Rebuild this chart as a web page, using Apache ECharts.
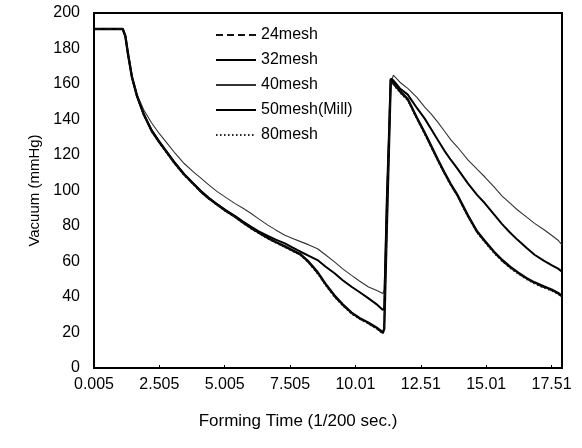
<!DOCTYPE html>
<html>
<head>
<meta charset="utf-8">
<script src="https://cdn.jsdelivr.net/npm/echarts@6/dist/echarts.min.js"></script>
<style>
html,body{margin:0;padding:0;background:#fff;}
#chart{width:582px;height:448px;}
</style>
</head>
<body>
<div id="chart"></div>
<script>
// Forming time (1/200 sec.)
var time = [0.005, 1.1, 1.2, 1.3, 1.45, 1.65, 1.9, 2.2, 2.5, 2.8, 3.1, 3.45, 3.8, 4.1, 4.4, 4.7, 5.05, 5.4, 5.7, 6.0, 6.3, 6.65, 6.95, 7.3, 7.6, 7.9, 8.2, 8.55, 8.85, 9.2, 9.5, 9.85, 10.15, 10.5, 10.8, 11.05, 11.1, 11.2, 11.35, 11.45, 11.7, 12.0, 12.35, 12.65, 12.9, 13.15, 13.4, 13.65, 13.9, 14.3, 14.65, 14.95, 15.3, 15.6, 15.9, 16.2, 16.55, 16.85, 17.2, 17.5, 17.75, 17.9];

var mesh24 = [191, 191, 187, 177, 164, 153, 143, 133.5, 127, 121, 115, 108.7, 103.5, 99, 95.3, 92, 88.3, 85, 81.8, 78.7, 76, 73, 70.7, 68.2, 66, 63.7, 59.5, 53.4, 47, 40.2, 35.5, 30.7, 27.8, 25, 22.3, 19.5, 23, 78, 162, 160, 155.5, 151, 140.5, 132, 124.5, 117, 109.7, 103, 97, 85.5, 76.5, 71, 65, 60.5, 56.8, 53.5, 50.2, 47.7, 45.5, 43.8, 41.8, 40.2];
var mesh32 = [191, 191, 187, 177, 164, 153, 143.2, 134, 127.5, 121.5, 115.5, 109.2, 104, 99.6, 95.7, 92.3, 88.8, 85.6, 82.5, 79.6, 77, 74.4, 72.3, 70.2, 67.8, 65.5, 63.3, 60.8, 57.2, 53.4, 49.6, 45.8, 42.8, 39.2, 36, 32.7, 34, 95, 163, 162, 157.5, 154, 146.5, 140.5, 134.5, 128.5, 122.5, 117.2, 112.3, 104, 97.5, 92.8, 86.5, 81.2, 76.5, 72.2, 67.6, 63.8, 60.5, 58, 56, 54.3];
var mesh40 = [191, 191, 187, 177, 164.5, 154, 145.5, 138.2, 132, 126.6, 121, 115.2, 110.5, 106.8, 103, 99.5, 96, 92.6, 90, 87.2, 84, 80.5, 77.8, 74.8, 73, 71.2, 69.5, 67.2, 63.8, 59.8, 56, 52.2, 49, 45.6, 43.8, 42, 44, 100, 160, 165, 161, 157.5, 152.5, 147, 143, 138.5, 133.5, 128.5, 124.5, 117.2, 112, 107.6, 102, 97, 93, 89, 85, 81.5, 78, 74.8, 72, 69.3];
var mesh50 = [191, 191, 187, 177, 164, 153, 143, 133.8, 127.2, 121.2, 115.2, 109, 103.8, 99.3, 95.5, 92.2, 88.5, 85.2, 82, 79, 76.3, 73.3, 71, 68.5, 66.3, 64, 60, 54, 47.5, 40.8, 36, 31.2, 28.2, 25.5, 22.8, 20, 22, 80, 162.5, 160.5, 156, 151.5, 141, 132.5, 125, 117.5, 110.2, 103.5, 97.5, 86, 77, 71.5, 65.5, 61, 57.2, 54, 50.6, 48.2, 46, 44.2, 42.2, 40.6];
var mesh80 = [191, 191, 187, 177, 163.5, 152.5, 142.6, 133.2, 126.6, 120.6, 114.6, 108.4, 103.2, 98.7, 95, 91.7, 88, 84.7, 81.5, 78.4, 75.7, 72.7, 70.4, 67.9, 65.7, 63.4, 59.2, 53, 46.6, 39.8, 35.2, 30.4, 27.5, 24.7, 22, 19.2, 21.5, 76, 161.5, 159.5, 155, 150.5, 140, 131.5, 124, 116.5, 109.3, 102.6, 96.6, 85, 76.1, 70.6, 64.6, 60.1, 56.4, 53.1, 49.8, 47.3, 45.1, 43.4, 41.5, 39.8];

var seriesNames = ['24mesh', '32mesh', '40mesh', '50mesh(Mill)', '80mesh'];
var xTickLabels = ['0.005', '2.505', '5.005', '7.505', '10.01', '12.51', '15.01', '17.51'];
var yTicks = [0, 20, 40, 60, 80, 100, 120, 140, 160, 180, 200];

function pairs(vals) {
  return time.map(function (t, i) { return [t, vals[i]]; });
}

var styles = [
  {type: [7, 4], width: 1.4, color: '#111'},
  {type: 'solid', width: 2, color: '#000'},
  {type: 'solid', width: 1.1, color: '#333'},
  {type: 'solid', width: 2.4, color: '#000'},
  {type: [1.5, 2.5], width: 1.2, color: '#222'}
];
var valuesList = [mesh24, mesh32, mesh40, mesh50, mesh80];

var font = "'Liberation Sans', Arial, sans-serif";
var chart = echarts.init(document.getElementById('chart'), null, {renderer: 'canvas'});
chart.setOption({
  animation: false,
  backgroundColor: '#fff',
  grid: {left: 94, right: 20, top: 13, bottom: 80, show: true, borderColor: '#000', borderWidth: 2},
  legend: {
    orient: 'vertical', left: 210, top: 22, itemWidth: 40, itemHeight: 14, itemGap: 9,
    itemStyle: {opacity: 0},
    textStyle: {fontFamily: font, fontSize: 16, color: '#000'},
    data: seriesNames
  },
  xAxis: {
    type: 'value', min: 0, max: 17.9, interval: 2.5,
    name: 'Forming Time (1/200 sec.)', nameLocation: 'middle', nameGap: 45,
    nameTextStyle: {fontFamily: font, fontSize: 17, color: '#000', padding: [0, 60, 0, 0]},
    axisLine: {lineStyle: {color: '#000', width: 2}},
    axisTick: {show: true, inside: true, length: 3, lineStyle: {color: '#000'}},
    splitLine: {show: false},
    axisLabel: {
      fontFamily: font, fontSize: 16, color: '#000', margin: 9, showMaxLabel: false,
      formatter: function (v) { var i = Math.round(v / 2.5); return Math.abs(v - i * 2.5) < 1e-6 && xTickLabels[i] ? xTickLabels[i] : ''; }
    }
  },
  yAxis: {
    type: 'value', min: yTicks[0], max: yTicks[yTicks.length - 1], interval: 20,
    name: 'Vacuum (mmHg)', nameLocation: 'middle', nameGap: 52,
    nameTextStyle: {fontFamily: font, fontSize: 15, color: '#000'},
    axisLine: {lineStyle: {color: '#000', width: 2}},
    axisTick: {show: false},
    splitLine: {show: false},
    axisLabel: {fontFamily: font, fontSize: 16, color: '#000', margin: 14}
  },
  series: seriesNames.map(function (n, k) {
    return {
      name: n, type: 'line', data: pairs(valuesList[k]), symbol: 'none',
      lineStyle: styles[k], itemStyle: {color: styles[k].color}, z: 10 - k
    };
  })
});
</script>
</body>
</html>
